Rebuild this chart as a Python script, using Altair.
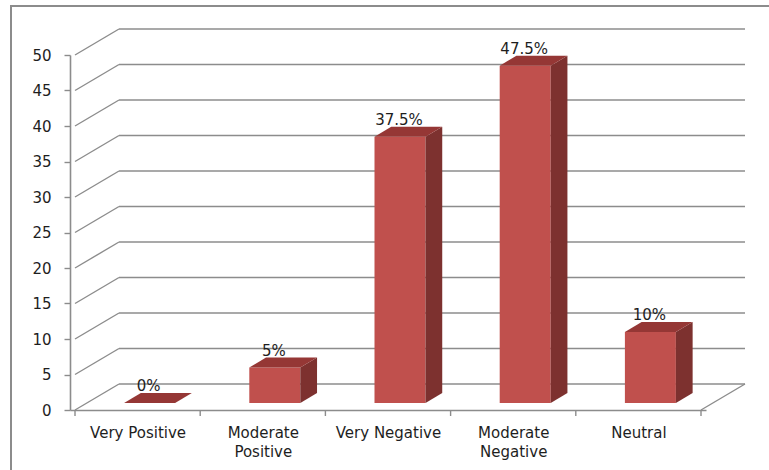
import json
import altair as alt
import pandas as pd

# --- chart values -------------------------------------------------------
categories = ["Very Positive", "Moderate Positive", "Very Negative",
              "Moderate Negative", "Neutral"]
values = [0, 5, 37.5, 47.5, 10]
value_labels = ["0%", "5%", "37.5%", "47.5%", "10%"]
y_ticks = list(range(0, 55, 5))

# --- layout / style -----------------------------------------------------
W, H = 636, 355                 # front plane of the plot
PX_PER_SLOT = W / len(categories)
PX_PER_UNIT = H / 50
WALL_DX, WALL_DY = 44, -26      # back wall offset (px)
BAR_W = 51                      # bar front face width (px)
BAR_DX, BAR_DY = 12, -7         # bars sit a little behind the front plane
DEPTH_DX, DEPTH_DY = 17, 10     # bar depth (px)

GRID = "#8c8c8c"
FRONT, SIDE, TOP = "#C0504D", "#7D312F", "#953735"
FONT = "DejaVu Sans"
TEXT = "#1e1e1e"

df = pd.DataFrame({"category": categories, "value": values,
                   "label": value_labels, "slot": list(range(len(categories)))})
grid = pd.DataFrame({"level": y_ticks})
edges = pd.DataFrame({"edge": list(range(len(categories) + 1))})

xs = alt.Scale(domain=[0, len(categories)], nice=False, zero=False)
ys = alt.Scale(domain=[0, 50], nice=False)

# label text for each slot, two lines where Excel wrapped them
label_lines = [c.split(" ") if c.startswith("Moderate") else c for c in categories]
label_expr = f"{json.dumps(label_lines)}[floor(datum.value)]"

# axes: front left wall edge and front floor edge
axes = alt.Chart(grid).transform_calculate(x0="0").mark_point(opacity=0).encode(
    x=alt.X("x0:Q", scale=xs, axis=alt.Axis(
        values=[i + 0.5 for i in range(len(categories))], labelExpr=label_expr,
        ticks=False, grid=False, domainColor=GRID, domainWidth=1.6,
        labelFont=FONT, labelFontSize=15, labelColor=TEXT, labelPadding=15,
        labelLineHeight=19, labelBaseline="top", labelOverlap=False, title=None)),
    y=alt.Y("level:Q", scale=ys, axis=alt.Axis(
        values=y_ticks, tickCount=len(y_ticks), grid=False, domainColor=GRID,
        domainWidth=1.6, tickColor=GRID, tickSize=6, tickWidth=1.4,
        labelFont=FONT, labelFontSize=15, labelColor=TEXT, labelPadding=13,
        labelOverlap=False, labelFlush=False, title=None)),
)

NOAX = None  # layers below draw no axis of their own

# outer chart frame
frame = alt.Chart(pd.DataFrame({"f": [0]})).mark_rect(
    fillOpacity=0, stroke=GRID, strokeWidth=2
).encode(x=alt.value(-59), x2=alt.value(712), y=alt.value(-49), y2=alt.value(430))

# back wall gridlines and left-wall diagonals
wall = alt.Chart(grid).transform_calculate(x0="0", x1=str(len(categories)))
back_lines = wall.mark_rule(
    color=GRID, strokeWidth=1.6,
    xOffset=WALL_DX, x2Offset=WALL_DX, yOffset=WALL_DY, y2Offset=WALL_DY
).encode(
    x=alt.X("x0:Q", scale=xs, axis=NOAX),
    x2="x1:Q",
    y=alt.Y("level:Q", scale=ys, axis=NOAX),
)
diagonals = wall.mark_rule(
    color=GRID, strokeWidth=1.4, x2Offset=WALL_DX, y2Offset=WALL_DY
).encode(
    x=alt.X("x0:Q", scale=xs, axis=NOAX),
    x2="x0:Q",
    y=alt.Y("level:Q", scale=ys, axis=NOAX),
    y2="level:Q",
)
floor_edge = alt.Chart(pd.DataFrame({"level": [0]})).transform_calculate(
    x1=str(len(categories))
).mark_rule(
    color=GRID, strokeWidth=1.4, x2Offset=WALL_DX, y2Offset=WALL_DY
).encode(
    x=alt.X("x1:Q", scale=xs, axis=NOAX),
    x2="x1:Q",
    y=alt.Y("level:Q", scale=ys, axis=NOAX),
    y2="level:Q",
)

# category boundary ticks under the floor
edge_ticks = alt.Chart(edges).transform_calculate(z="0").mark_rule(
    color=GRID, strokeWidth=1.4, y2Offset=6
).encode(
    x=alt.X("edge:Q", scale=xs, axis=NOAX),
    y=alt.Y("z:Q", scale=ys, axis=NOAX),
    y2="z:Q",
)

# 3D bars
bars = alt.Chart(df).transform_calculate(
    center="datum.slot + 0.5", base="0"
)
front = bars.mark_bar(
    size=BAR_W, color=FRONT, xOffset=BAR_DX, yOffset=BAR_DY, y2Offset=BAR_DY
).encode(
    x=alt.X("center:Q", scale=xs, axis=NOAX),
    y=alt.Y("value:Q", scale=ys, axis=NOAX),
    y2="base:Q",
)

faces = bars.transform_calculate(k="[0, 1]").transform_flatten(["k"]).transform_calculate(
    fx=f"datum.center + datum.k * {DEPTH_DX / PX_PER_SLOT}",
    ft=f"datum.value + datum.k * {DEPTH_DY / PX_PER_UNIT}",
    fb=f"datum.k * {DEPTH_DY / PX_PER_UNIT}",
)
side = faces.mark_area(
    color=SIDE, orient="vertical",
    xOffset=BAR_DX + BAR_W / 2, yOffset=BAR_DY, y2Offset=BAR_DY
).encode(
    x=alt.X("fx:Q", scale=xs, axis=NOAX),
    y=alt.Y("ft:Q", scale=ys, axis=NOAX),
    y2="fb:Q",
    detail="category:N",
)
top = faces.mark_area(
    color=TOP, orient="horizontal",
    xOffset=BAR_DX - BAR_W / 2, x2Offset=BAR_DX + BAR_W / 2, yOffset=BAR_DY
).encode(
    x=alt.X("fx:Q", scale=xs, axis=NOAX),
    x2="fx:Q",
    y=alt.Y("ft:Q", scale=ys, axis=NOAX),
    detail="category:N",
)

labels = bars.mark_text(
    font=FONT, fontSize=15, color=TEXT, baseline="alphabetic",
    xOffset=BAR_DX - 1, yOffset=BAR_DY - DEPTH_DY - 2
).encode(
    x=alt.X("center:Q", scale=xs, axis=NOAX),
    y=alt.Y("value:Q", scale=ys, axis=NOAX),
    text="label:N",
)

chart = alt.layer(
    axes, frame, back_lines, diagonals, floor_edge, edge_ticks,
    front, side, top, labels
).resolve_axis(x="independent", y="independent").properties(
    width=W, height=H,
    autosize=alt.AutoSizeParams(type="none"),
    padding={"left": 70, "top": 55, "right": 63, "bottom": 60},
    view=alt.ViewBackground(stroke="transparent", strokeWidth=0),
).configure_view(stroke="transparent", strokeWidth=0).configure(background="white")

chart.save("out.html", embed_options={"renderer": "svg", "actions": False})
